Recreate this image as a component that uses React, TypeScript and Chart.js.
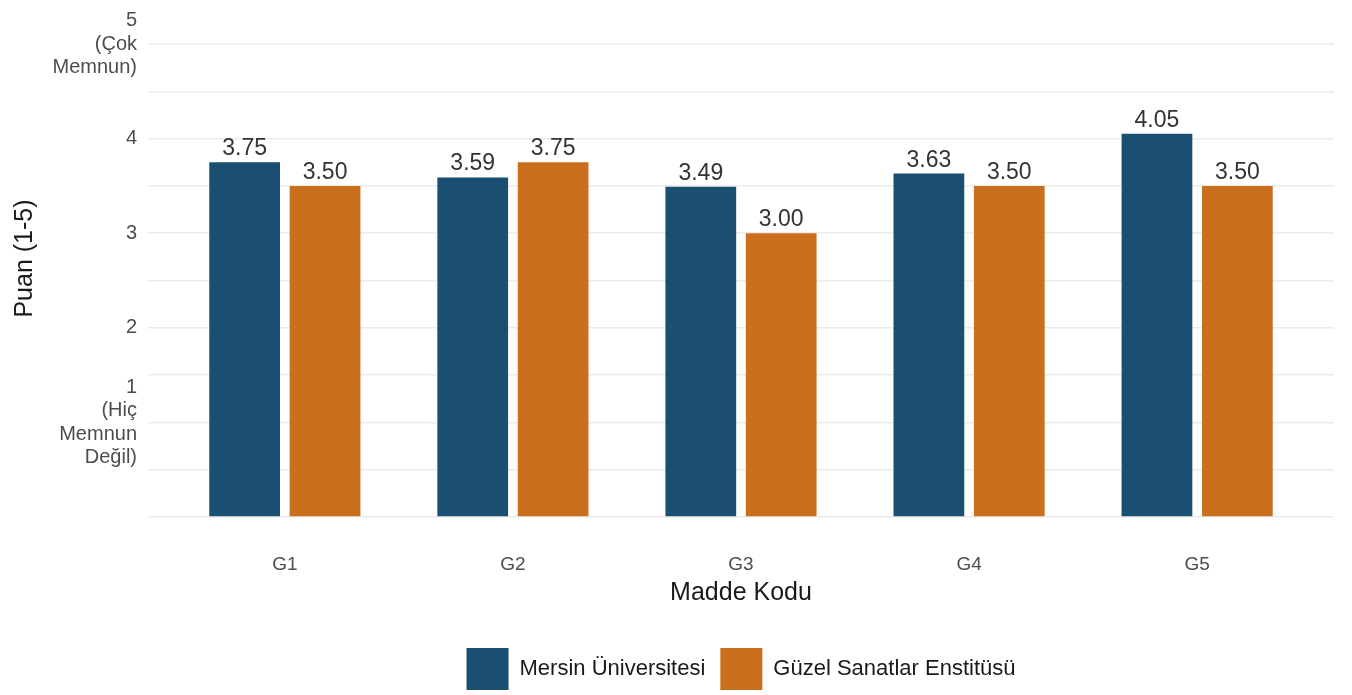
import React, { useEffect, useRef } from 'react';
import { Chart, registerables } from 'chart.js';

Chart.register(...registerables);

const categories = ['G1', 'G2', 'G3', 'G4', 'G5'];
const seriesNames = ['Mersin Üniversitesi', 'Güzel Sanatlar Enstitüsü'];
const mersinValues = [3.75, 3.59, 3.49, 3.63, 4.05];
const guzelValues = [3.5, 3.75, 3.0, 3.5, 3.5];
const seriesColors = ['#1B4F72', '#CA6F1E'];
const yGridValues = [0, 0.5, 1, 1.5, 2, 2.5, 3, 3.5, 4, 4.5, 5];
const yTickLabels: Record<string, string[]> = {
  '1': ['1', '(Hiç', 'Memnun', 'Değil)'],
  '2': ['2'],
  '3': ['3'],
  '4': ['4'],
  '5': ['5', '(Çok', 'Memnun)'],
};
const yMin = 0;
const yMax = 5.465;
const xMin = 0.4;
const xMax = 5.6;

const FONT = '"Liberation Sans", Arial, Helvetica, sans-serif';

const valueLabels = {
  id: 'valueLabels',
  afterDatasetsDraw(chart: any) {
    const ctx = chart.ctx;
    ctx.save();
    ctx.font = `23px ${FONT}`;
    ctx.fillStyle = '#333333';
    ctx.textAlign = 'center';
    ctx.textBaseline = 'alphabetic';
    chart.data.datasets.forEach((ds: any, di: number) => {
      const meta = chart.getDatasetMeta(di);
      meta.data.forEach((el: any, i: number) => {
        const v = ds.data[i].y as number;
        ctx.fillText(v.toFixed(2), el.x, el.y - 7);
      });
    });
    ctx.restore();
  },
};

export default function App() {
  const ref = useRef<HTMLCanvasElement | null>(null);

  useEffect(() => {
    if (!ref.current) return;
    Chart.defaults.font.family = FONT;
    const toPoints = (vals: number[]) => vals.map((v, i) => ({ x: i + 1, y: v }));
    const chart = new Chart(ref.current, {
      type: 'bar',
      data: {
        datasets: [
          {
            label: seriesNames[0],
            data: toPoints(mersinValues),
            backgroundColor: seriesColors[0],
            borderWidth: 0,
            categoryPercentage: 0.705,
            barPercentage: 0.88,
          },
          {
            label: seriesNames[1],
            data: toPoints(guzelValues),
            backgroundColor: seriesColors[1],
            borderWidth: 0,
            categoryPercentage: 0.705,
            barPercentage: 0.88,
          },
        ],
      },
      options: {
        responsive: false,
        animation: false,
        layout: { padding: { left: 0, right: 18, top: 0, bottom: 0 } },
        plugins: {
          tooltip: { enabled: false },
          legend: {
            position: 'bottom',
            fullSize: false,
            labels: {
              boxWidth: 42,
              boxHeight: 42,
              padding: 15,
              color: '#1a1a1a',
              font: { size: 22, family: FONT },
            },
          },
        },
        scales: {
          x: {
            type: 'linear',
            offset: false,
            min: xMin,
            max: xMax,
            afterBuildTicks: (axis: any) => {
              axis.ticks = categories.map((_, i) => ({ value: i + 1 }));
            },
            afterFit: (scale: any) => {
              scale.height = 116;
            },
            grid: { display: false, drawTicks: false, offset: false },
            border: { display: false },
            ticks: {
              autoSkip: false,
              padding: 36,
              color: '#4d4d4d',
              font: { size: 19, family: FONT },
              callback: (v: any) => categories[Math.round(Number(v)) - 1] ?? '',
            },
            title: {
              display: true,
              text: 'Madde Kodu',
              color: '#1a1a1a',
              font: { size: 25, family: FONT },
              padding: { top: 2, bottom: 25 },
            },
          },
          y: {
            type: 'linear',
            min: yMin,
            max: yMax,
            afterBuildTicks: (axis: any) => {
              axis.ticks = yGridValues.map((v) => ({ value: v }));
            },
            afterFit: (scale: any) => {
              scale.width = 148;
              scale.paddingTop = 0;
              scale.paddingBottom = 0;
            },
            grid: {
              color: '#ebebeb',
              lineWidth: 1.5,
              drawTicks: false,
            },
            border: { display: false },
            ticks: {
              autoSkip: false,
              padding: 11,
              color: '#4d4d4d',
              font: { size: 20, family: FONT, lineHeight: 1.165 },
              callback: (v: any) => yTickLabels[String(v)] ?? '',
            },
            title: {
              display: true,
              text: 'Puan (1-5)',
              color: '#1a1a1a',
              font: { size: 25, family: FONT },
              padding: { top: 10, bottom: 0 },
            },
          },
        },
      },
      plugins: [valueLabels],
    } as any);
    return () => chart.destroy();
  }, []);

  return (
    <div style={{ position: 'fixed', left: 0, top: 0, width: 1352, height: 695, overflow: 'hidden', background: '#ffffff' }}>
      <canvas ref={ref} width={1352} height={700} style={{ display: 'block' }} />
    </div>
  );
}
